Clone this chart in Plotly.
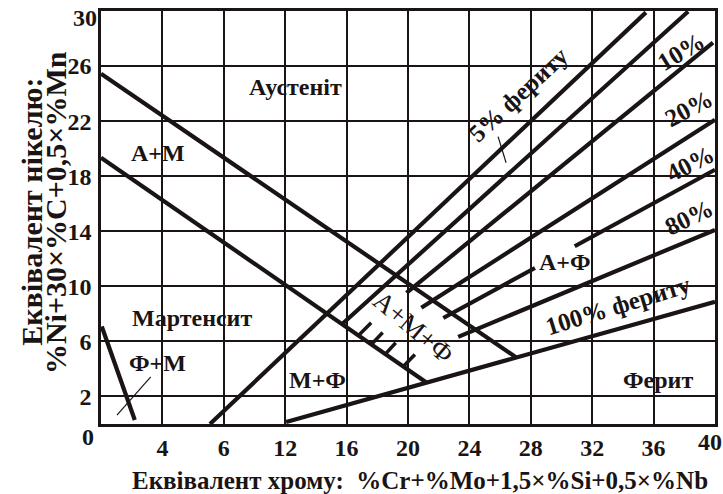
import plotly.graph_objects as go

# Constitution diagram for stainless-steel weld metal (Schaeffler type)
# Axes: chromium equivalent (x) vs nickel equivalent (y)

x_tickvals = [4, 8, 12, 16, 20, 24, 28, 32, 36, 40]
x_ticktext = ["4", "6", "12", "16", "20", "24", "28", "32", "36", ""]
y_tickvals = [2, 6, 10, 14, 18, 22, 26, 30]
y_ticktext = ["2", "6", "10", "14", "18", "22", "26", ""]
# end labels that sit just inside the frame edge
x_end_label = "40"
y_end_label = "30"

# Austenite / austenite+martensite boundary
aust_x = [0.0, 27.03]
aust_y = [25.45, 4.85]
# Austenite+martensite / martensite boundary
mart_x = [0.0, 21.2]
mart_y = [19.35, 3.02]
# 0 % ferrite line
f0_x = [7.1, 35.5]
f0_y = [0.0, 29.9]
# 5 % ferrite
f5_x = [15.75, 38.25]
f5_y = [7.3, 29.96]
# 10 % ferrite
f10_x = [19.9, 39.87]
f10_y = [9.53, 27.7]
# 20 % ferrite
f20_x = [20.87, 40.0]
f20_y = [8.44, 22.1]
# 40 % ferrite (broken around the A+F label)
f40_x = [22.3, 28.27, None, 30.86, 40.0]
f40_y = [7.7, 11.33, None, 12.91, 18.47]
# 80 % ferrite
f80_x = [23.27, 40.0]
f80_y = [6.33, 14.1]
# 100 % ferrite
f100_x = [12.06, 40.0]
f100_y = [0.15, 8.87]
# ferrite+martensite boundary near the origin
fm_x = [0.05, 2.2]
fm_y = [7.08, 0.29]

# hatch marks on the A+M+F side of the martensite boundary
hatch_x = [16.79, 17.6, None, 17.63, 18.35, None, 18.54, 19.2, None, 19.71, 20.45]
hatch_y = [6.44, 7.35, None, 5.79, 6.65, None, 5.09, 5.9, None, 4.19, 5.05]

# thin leader lines
lead_fm_x = [1.04, 3.24]
lead_fm_y = [0.65, 3.42]
lead_f5_x = [25.87, 26.39]
lead_f5_y = [20.87, 18.98]

SERIF = "Liberation Serif"
INK = "#1a1414"

fig = go.Figure()

thick = [
    (aust_x, aust_y), (mart_x, mart_y), (f0_x, f0_y), (f5_x, f5_y),
    (f10_x, f10_y), (f20_x, f20_y), (f40_x, f40_y), (f80_x, f80_y),
    (f100_x, f100_y), (fm_x, fm_y),
]
for xs, ys in thick:
    fig.add_trace(go.Scatter(x=xs, y=ys, mode="lines",
                             line=dict(color=INK, width=4.2),
                             hoverinfo="skip", showlegend=False))

fig.add_trace(go.Scatter(x=hatch_x, y=hatch_y, mode="lines",
                         line=dict(color=INK, width=3.5),
                         hoverinfo="skip", showlegend=False))
for xs, ys in [(lead_fm_x, lead_fm_y), (lead_f5_x, lead_f5_y)]:
    fig.add_trace(go.Scatter(x=xs, y=ys, mode="lines",
                             line=dict(color=INK, width=1.2),
                             hoverinfo="skip", showlegend=False))


def label(text, x, y, size=24, angle=0, bold=True):
    fig.add_annotation(x=x, y=y, xref="x", yref="y", text=text,
                       showarrow=False, textangle=angle,
                       xanchor="center", yanchor="middle",
                       font=dict(family=SERIF, size=size, color=INK,
                                 weight="bold" if bold else "normal"))


label("Аустеніт", 12.7, 24.5)
label("А+М", 3.7, 19.7)
label("Мартенсит", 5.9, 7.7)
label("Ф+М", 3.7, 4.44)
label("М+Ф", 14.1, 3.2)
label("Ферит", 36.3, 3.2)
label("А+Ф", 30.2, 11.8)
label("А+М+Ф", 20.35, 7.05, size=27, angle=40, bold=False)
label("5% фериту", 27.2, 23.9, size=25, angle=-43)
label("10%", 37.8, 27.05, size=25, angle=-31)
label("20%", 38.3, 22.9, size=25, angle=-28)
label("40%", 38.4, 18.95, size=25, angle=-27)
label("80%", 38.3, 15.0, size=25, angle=-26)
label("100% фериту", 33.65, 8.6, size=25, angle=-17)


def paper_text(text, x, y, size, angle=0):
    fig.add_annotation(x=x, y=y, xref="paper", yref="paper", text=text,
                       showarrow=False, textangle=angle,
                       xanchor="center", yanchor="middle",
                       font=dict(family=SERIF, size=size, color=INK,
                                 weight="bold"))


# shared origin label and the frame-edge tick labels
paper_text("0", -0.021, -0.031, 24)
paper_text(x_end_label, 0.992, -0.044, 24)
paper_text(y_end_label, -0.026, 0.983, 24)

# axis titles
paper_text("Еквівалент нікелю:", -0.113, 0.513, 30, angle=-90)
paper_text("%Ni+30×%C+0,5×%Mn", -0.075, 0.513, 30, angle=-90)
paper_text("Еквівалент хрому:  %Cr+%Mo+1,5×%Si+0,5×%Nb", 0.52, -0.136, 25)

axis_common = dict(showgrid=True, gridcolor=INK, gridwidth=1.5,
                   showline=True, linecolor=INK, linewidth=2.5, mirror=True,
                   zeroline=False, ticks="",
                   tickfont=dict(family=SERIF, size=24, color=INK, weight="bold"))

fig.update_xaxes(range=[0, 40], tickvals=x_tickvals, ticktext=x_ticktext,
                 ticklabelstandoff=0, **axis_common)
fig.update_yaxes(range=[0, 30], tickvals=y_tickvals, ticktext=y_ticktext,
                 ticklabelstandoff=2, **axis_common)

fig.update_layout(width=723, height=494,
                  margin=dict(l=101, r=5, t=11, b=70),
                  paper_bgcolor="white", plot_bgcolor="white")

fig.write_html("out.html")
